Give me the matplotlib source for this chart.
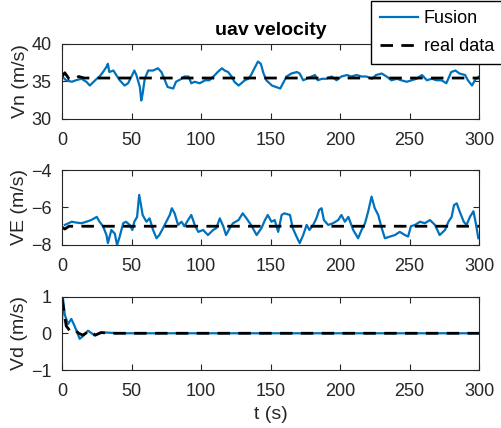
import matplotlib
matplotlib.use("Agg")
import matplotlib.pyplot as plt

plt.rcParams['font.family'] = ['Liberation Sans', 'DejaVu Sans']

# --- data ---
vn_t = [0, 3, 7, 10, 14, 17.5, 20, 25, 27, 29.5, 32, 33, 34, 37, 39, 41.5, 45, 47.5, 50, 52,
        53.5, 56, 57, 58, 59.5, 62, 65.5, 69, 71.5, 74, 76, 80, 82, 86, 88, 91, 93, 95.5, 99, 103,
        106, 110, 112, 115, 117, 119.5, 122, 124, 127, 129, 131.5, 134, 136, 139, 141, 143, 145, 147, 151, 154,
        157, 159, 161.5, 165, 169, 171, 173.5, 176, 179.5, 182, 184, 187, 190, 194, 197.5, 201, 205, 208, 212, 215.5,
        219, 223, 226, 230, 233.5, 237, 241, 244, 248, 251.5, 255, 259, 262.5, 266, 269.5, 273, 276.5, 280, 283, 286,
        290, 292, 295, 297, 300]
vn_fusion = [35.6, 35.1, 34.9, 35.1, 35.3, 34.9, 34.4, 35.3, 35.6, 36.2, 36.9, 37.3, 36.2, 36.4, 35.8, 35.1, 34.4, 34.7, 35.6, 36.4,
             35.8, 34.2, 32.4, 33.3, 35.3, 36.4, 36.4, 36.7, 36.2, 35.1, 34.2, 34.0, 34.9, 35.3, 35.6, 35.6, 34.7, 34.9, 34.7, 35.1,
             35.1, 35.8, 36.2, 36.7, 36.4, 36.2, 35.6, 34.9, 34.4, 34.7, 35.1, 35.3, 35.8, 36.9, 37.6, 37.3, 36.0, 35.1, 34.4, 34.2,
             34.0, 34.7, 35.6, 36.0, 36.2, 36.0, 35.1, 35.3, 35.6, 35.8, 35.1, 35.3, 35.3, 35.6, 35.1, 35.6, 35.8, 35.6, 35.8, 35.6,
             35.6, 35.3, 35.8, 36.0, 35.6, 35.1, 35.3, 35.1, 34.9, 35.1, 35.3, 35.8, 35.1, 35.3, 35.1, 35.1, 34.7, 36.2, 36.4, 36.0,
             35.8, 35.1, 34.4, 35.1, 35.6]
vn_real_t = [0, 2, 5, 8, 12, 16, 20, 300]
vn_real = [35.6, 36.1, 35.3, 35.2, 35.6, 35.4, 35.4, 35.4]

ve_t = [2, 7, 10, 14, 17.5, 21, 25, 27, 29.5, 32, 33, 35.5, 38, 39.6, 41.5, 44, 46, 48.7, 50.6, 52,
        54, 55.5, 56.6, 58, 60.7, 63, 65.5, 68, 70, 72.7, 75, 77.5, 79, 81, 83.5, 86, 88, 90.7, 93, 95.5,
        98, 101.5, 105, 108.7, 111, 113.5, 116, 118, 120.7, 123, 127, 130, 132.7, 136, 140, 143.5, 146, 148, 150.7, 153,
        155.5, 158, 160, 164, 166, 168.7, 171, 173.5, 176, 178, 180.7, 183, 185, 186.7, 188.4, 191.5, 195, 198.7, 201, 203.5,
        206, 209.5, 213, 215.5, 218, 220.3, 222.7, 225, 227.5, 230, 232.3, 236, 239.5, 243, 246.7, 249, 251, 254, 257.5, 261,
        264.7, 268.3, 271.7, 275.5, 278, 280.3, 282, 284, 286, 289, 291, 293.5, 296, 297.7, 299.5]
ve_fusion = [-6.93, -6.76, -6.8, -6.84, -6.76, -6.67, -6.5, -6.76, -7.0, -7.47, -7.9, -7.2, -7.4, -8.0, -7.55, -6.84, -6.76, -6.93, -7.2, -6.76,
             -6.5, -5.33, -5.78, -6.4, -6.76, -6.58, -7.2, -7.64, -7.47, -7.1, -6.76, -6.4, -6.04, -6.31, -6.93, -6.76, -7.0, -6.67, -6.4, -6.93,
             -7.3, -7.2, -7.47, -7.2, -7.1, -6.58, -7.0, -7.47, -7.1, -6.84, -6.67, -6.31, -6.58, -6.93, -7.47, -7.1, -6.67, -6.4, -6.76, -6.67,
             -7.3, -6.4, -6.31, -6.4, -7.1, -7.55, -7.9, -7.47, -6.93, -7.2, -6.93, -6.58, -6.13, -6.04, -6.67, -6.93, -6.84, -6.67, -6.4, -6.76,
             -6.5, -7.2, -7.64, -7.2, -6.84, -6.2, -5.42, -6.04, -6.4, -7.1, -7.64, -7.55, -7.47, -7.3, -7.47, -7.55, -7.0, -6.93, -6.76, -6.84,
             -6.67, -6.93, -7.47, -7.2, -6.76, -6.5, -5.87, -5.78, -6.2, -6.76, -6.93, -6.5, -6.2, -6.84, -7.64]
ve_real_t = [0, 2, 5, 300]
ve_real = [-7.05, -7.15, -7.0, -7.0]

vd_t = [0, 0.7, 2, 4.3, 6.7, 9, 12.7, 15, 18.7, 23.5, 27, 32, 40, 300]
vd_fusion = [0.3, 0.94, 0.5, 0.25, 0.39, 0.2, -0.15, -0.08, 0.07, -0.06, 0.0, 0.02, 0.0, 0.0]
vd_real_t = [0, 1, 3, 6, 9, 12, 15, 20, 24, 28, 35, 300]
vd_real = [0.95, 0.7, 0.2, 0.05, 0.1, 0.0, -0.05, 0.07, -0.05, 0.02, 0.0, 0.0]

xticks = [0, 50, 100, 150, 200, 250, 300]

BLUE = '#0072BD'
DARK = '#262626'

fig = plt.figure(figsize=(5.01, 4.28), dpi=100)
ax1 = fig.add_axes([0.1238, 0.7231, 0.8323, 0.1752])
ax2 = fig.add_axes([0.1238, 0.4276, 0.8323, 0.1752])
ax3 = fig.add_axes([0.1238, 0.1355, 0.8323, 0.1717])

panels = [
    (ax1, vn_t, vn_fusion, vn_real_t, vn_real, (30, 40), [30, 35, 40], 'Vn (m/s)'),
    (ax2, ve_t, ve_fusion, ve_real_t, ve_real, (-8, -4), [-8, -6, -4], 'VE (m/s)'),
    (ax3, vd_t, vd_fusion, vd_real_t, vd_real, (-1, 1), [-1, 0, 1], 'Vd (m/s)'),
]

for ax, t, fus, rt, real, ylim, yt, lab in panels:
    l1, = ax.plot(t, fus, color=BLUE, lw=1.6, label='Fusion')
    l2, = ax.plot(rt, real, color='black', lw=2.0, linestyle=(0, (4.5, 3)), label='real data')
    ax.set_xlim(0, 300)
    ax.set_ylim(*ylim)
    ax.set_xticks(xticks)
    ax.set_yticks(yt)
    ax.set_ylabel(lab, fontsize=14, color=DARK, labelpad=2)
    ax.tick_params(direction='in', top=True, right=True, length=4, width=0.8,
                   labelsize=13, colors=DARK)
    ax.tick_params(axis='x', pad=9.5)
    ax.tick_params(axis='y', pad=7.5)
    for s in ax.spines.values():
        s.set_color(DARK)
        s.set_linewidth(0.8)

ax1.set_title('uav velocity', fontsize=14, fontweight='bold', pad=6)
ax3.set_xlabel('t (s)', fontsize=14, color=DARK, labelpad=4)

fig.legend([l1, l2], ['Fusion', 'real data'], loc='lower left',
           bbox_to_anchor=(0.741, 0.850), borderaxespad=0, fontsize=13,
           frameon=True, fancybox=False, framealpha=1, edgecolor='black',
           handlelength=2.1, handletextpad=0.3, borderpad=0.5, labelspacing=0.6)

fig.savefig('out.png', dpi=100)
